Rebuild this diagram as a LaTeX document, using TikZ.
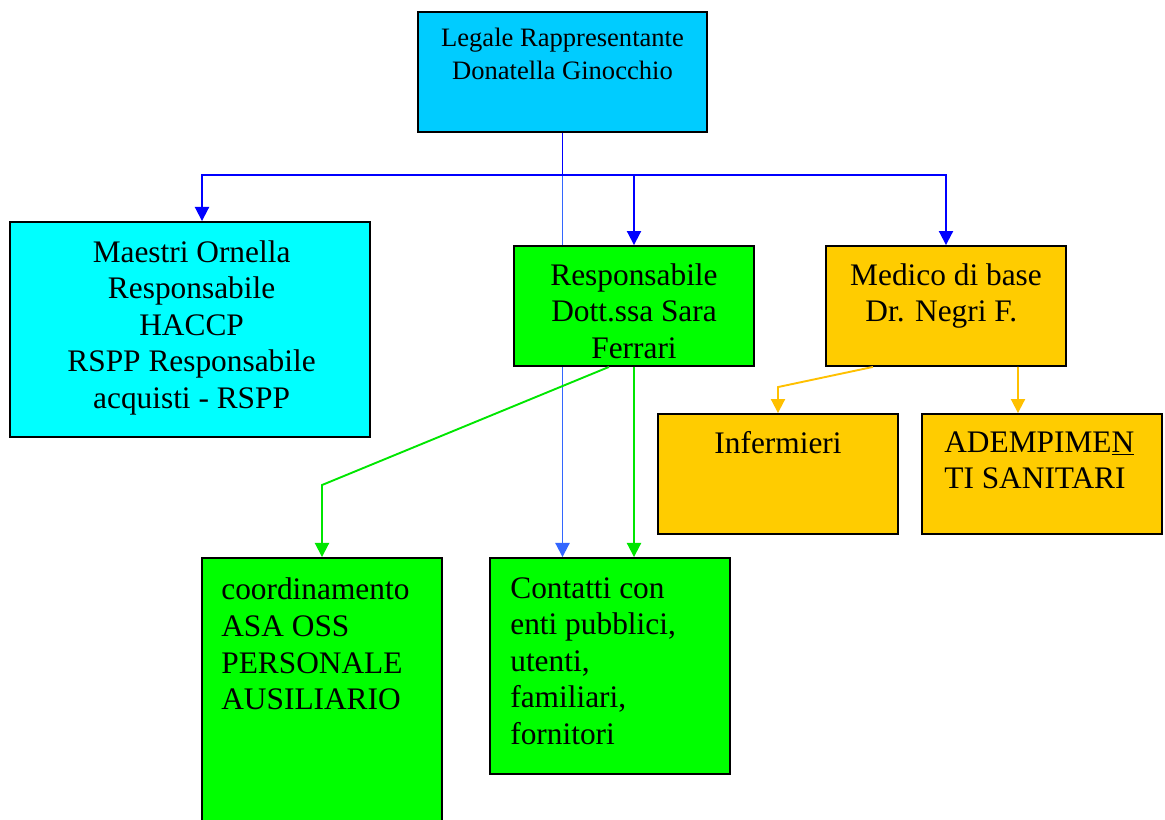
\documentclass[tikz,border=0pt]{standalone}
\usepackage{fontspec}
\setmainfont{Liberation Serif}
\usetikzlibrary{arrows.meta, positioning, calc, backgrounds}
\definecolor{legcyan}{HTML}{00CCFF}
\definecolor{maecyan}{HTML}{00FFFF}
\definecolor{boxgreen}{HTML}{00FF00}
\definecolor{boxorange}{HTML}{FFCC00}
\definecolor{linkblue}{HTML}{0000FF}
\definecolor{linklight}{HTML}{3366FF}
\definecolor{linkgreen}{HTML}{00E600}
\definecolor{linkorange}{HTML}{FFC000}
\newcommand{\bigtxt}{\fontsize{22.3}{26}\selectfont}
\newcommand{\smalltxt}{\fontsize{18.9}{23.5}\selectfont}

\begin{document}
\begin{tikzpicture}[x=0.025cm, y=-0.025cm,
	box/.style={draw=black, line width=1.3pt, inner sep=0pt, minimum width=6cm, minimum height=3cm},
	lbl/.style={inner sep=0pt, font=\bigtxt, align=center, anchor=north},
	lbll/.style={inner sep=0pt, font=\bigtxt, align=left, anchor=north west},
	link/.style={line width=1.35pt, -{Triangle[length=10pt, width=10pt]}}]
	\useasboundingbox (0,0) rectangle (1165,820);
	\clip (0,0) rectangle (1165,820);
	\node[box, fill=legcyan, minimum width=7.225cm] (legale) at (562.5,72) {};
	\node[box, fill=maecyan, minimum width=9cm, minimum height=5.375cm] (maestri) at (190,329.5) {};
	\node[box, fill=boxgreen] (resp) at (634,306) {};
	\node[box, fill=boxorange] (medico) at (946,306) {};
	\node[box, fill=boxorange] (inferm) at (778,474) {};
	\node[box, fill=boxorange] (ademp) at (1042,474) {};
	\node[box, fill=boxgreen, minimum height=8.55cm] (coord) at (322,729) {};
	\node[box, fill=boxgreen, minimum height=5.4cm] (contatti) at (610,666) {};

	\node[lbl, font=\smalltxt] (legale-t) at ([yshift=-0.425cm]legale.north) {Legale Rappresentante\\Donatella Ginocchio};
	\node[lbl] (maestri-t) at ([xshift=0.04cm, yshift=-0.475cm]maestri.north) {Maestri Ornella\\Responsabile\\HACCP\\RSPP Responsabile\\acquisti - RSPP};
	\node[lbl] (resp-t) at ([yshift=-0.45cm]resp.north) {Responsabile\\Dott.ssa Sara\\Ferrari};
	\node[lbl] (medico-t) at ([yshift=-0.45cm]medico.north) {Medico di base\\Dr. Negri F.\hspace*{0.3em}};
	\node[lbl] (inferm-t) at ([yshift=-0.45cm]inferm.north) {Infermieri};
	\node[lbll] (ademp-t) at ([xshift=0.575cm, yshift=-0.45cm]ademp.north west) {ADEMPIME\underline{N}\\TI SANITARI};
	\node[lbll] (coord-t) at ([xshift=0.5cm, yshift=-0.52cm]coord.north west) {coordinamento\\ASA OSS\\PERSONALE\\AUSILIARIO};
	\node[lbll] (contatti-t) at ([xshift=0.525cm, yshift=-0.5cm]contatti.north west) {Contatti con\\enti pubblici,\\utenti,\\familiari,\\fornitori};

	\begin{scope}[on background layer]
		\draw[link, linklight] (legale.south) -- (legale.south |- contatti.north);
	\end{scope}
	\coordinate (bus) at ([yshift=-1.05cm]legale.south);
	\draw[line width=1.35pt, linkblue] (legale.south) -- (bus);
	\draw[link, linkblue] (bus) -| ([xshift=0.3cm]maestri.north);
	\draw[link, linkblue] (bus) -| (resp.north);
	\draw[link, linkblue] (bus) -| (medico.north);
	\draw[link, linkgreen] ([xshift=-0.625cm]resp.south) -- ([yshift=1.8cm]coord.north) -- (coord.north);
	\draw[link, linkgreen] (resp.south) -- (resp.south |- contatti.north);
	\draw[link, linkorange] ([xshift=-1.825cm]medico.south) -- ([yshift=0.65cm]inferm.north) -- (inferm.north);
	\draw[link, linkorange] ([xshift=1.8cm]medico.south) -- ([xshift=-0.6cm]ademp.north);
\end{tikzpicture}
\end{document}
